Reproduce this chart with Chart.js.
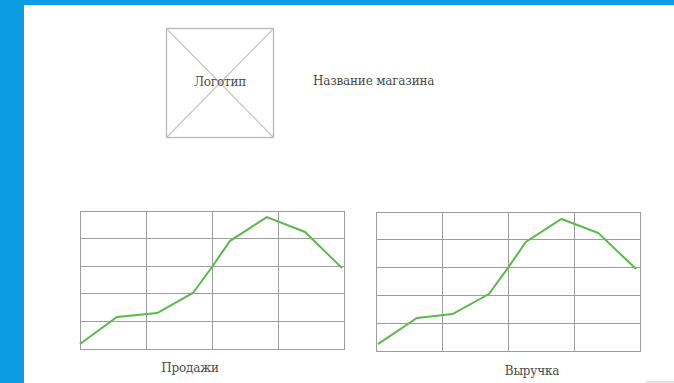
<!DOCTYPE html>
<html><head><meta charset="utf-8">
<script src="https://cdn.jsdelivr.net/npm/chart.js@4/dist/chart.umd.min.js"></script>
<style>
html,body{margin:0;padding:0;background:#fff;width:674px;height:383px;overflow:hidden;position:relative;font-family:"DejaVu Serif","Liberation Serif",serif;}
#bl{position:absolute;left:0;top:0;width:24px;height:383px;background:#0a9be0;}
#bt{position:absolute;left:0;top:0;width:674px;height:5px;background:#0a9be0;}
.txt{position:absolute;color:#4a4a4a;font-size:12px;white-space:nowrap;line-height:16px;letter-spacing:-0.2px;}
canvas{position:absolute;}
#br{position:absolute;left:646px;top:381px;width:28px;height:2px;background:#e4e4e4;}
</style></head>
<body>
<div id="bl"></div><div id="bt"></div>
<svg style="position:absolute;left:0;top:0" width="674" height="383">
  <rect x="166.5" y="28.5" width="107" height="109" fill="none" stroke="#b8b8b8" stroke-width="1.3"/>
  <line x1="166.5" y1="28.5" x2="273.5" y2="137.5" stroke="#c4c4c4" stroke-width="1.2"/>
  <line x1="273.5" y1="28.5" x2="166.5" y2="137.5" stroke="#c4c4c4" stroke-width="1.2"/>
</svg>
<div class="txt" style="left:220px;top:74px;transform:translateX(-50%);">Логотип</div>
<div class="txt" style="left:313px;top:73px;">Название магазина</div>
<div class="txt" style="left:190px;top:360px;transform:translateX(-50%);">Продажи</div>
<div class="txt" style="left:532px;top:363px;transform:translateX(-50%);">Выручка</div>
<div id="br"></div>
<canvas id="c1" style="left:79px;top:210px;width:266px;height:140px" width="266" height="140"></canvas>
<canvas id="c2" style="left:375px;top:211px;width:266px;height:141px" width="266" height="141"></canvas>
<script>
const salesX = [0, 0.56, 1.17, 1.71, 2.0, 2.27, 2.83, 3.41, 3.97];
const salesY = [0.18, 1.16, 1.30, 2.03, 2.97, 3.91, 4.78, 4.24, 2.93];
const revenueX = [0.03, 0.62, 1.16, 1.71, 2.0, 2.27, 2.81, 3.37, 3.94];
const revenueY = [0.25, 1.19, 1.33, 2.05, 2.99, 3.92, 4.75, 4.24, 2.95];

function make(id, xs, ys){
  const pts = xs.map((x,i)=>({x:x, y:ys[i]}));
  new Chart(document.getElementById(id), {
    type:'line',
    data:{datasets:[{data:pts, borderColor:'#5cb94c', borderWidth:2, pointRadius:0, tension:0, fill:false, clip:false}]},
    options:{
      responsive:false, animation:false,
      layout:{padding:1},
      plugins:{legend:{display:false}, tooltip:{enabled:false}},
      scales:{
        x:{type:'linear', min:0, max:4, ticks:{display:false, stepSize:1},
           grid:{color:'#9c9c9c', lineWidth:1, drawTicks:false},
           border:{display:true, color:'#9c9c9c'}},
        y:{min:0, max:5, ticks:{display:false, stepSize:1},
           grid:{color:'#9c9c9c', lineWidth:1, drawTicks:false},
           border:{display:true, color:'#9c9c9c'}}
      }
    }
  });
}
make('c1', salesX, salesY);
make('c2', revenueX, revenueY);
</script>
</body></html>
